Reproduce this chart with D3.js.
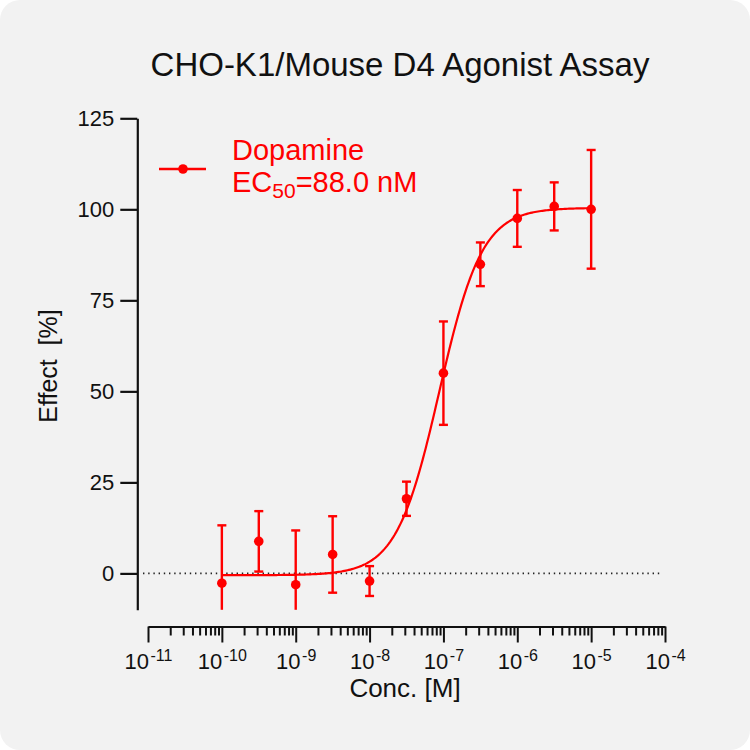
<!DOCTYPE html>
<html>
<head>
<meta charset="utf-8">
<script src="https://cdn.jsdelivr.net/npm/d3@7"></script>
<style>
  body { margin: 0; background: #fff; }
  text { font-family: "Liberation Sans", Arial, sans-serif; }
</style>
</head>
<body>
<div id="chart"></div>
<script>
// Dopamine concentration-response (log10 M), mean and SD of effect [%]
const logConc = [-10, -9.5, -9, -8.5, -8, -7.5, -7, -6.5, -6, -5.5, -5];
const effect  = [-2.7, 8.8, -3.1, 5.2, -2.1, 20.5, 55.0, 84.9, 97.5, 100.8, 100.0];
const effectSd = [15.9, 8.3, 14.9, 10.5, 4.1, 4.7, 14.2, 6.0, 7.8, 6.6, 16.3];

// 4PL fit: bottom, top, logEC50, hill slope
const fitParams = [-0.5, 100.4, Math.log10(88e-9), 1.5];
const fitRange = [-10, -5];

const yTicks = [0, 25, 50, 75, 100, 125];
const xDecades = [-11, -10, -9, -8, -7, -6, -5, -4];

const seriesName = "Dopamine";
const ec50Label = "88.0 nM";

const W = 750, H = 750;
const red = "#ff0000";

const svg = d3.select("#chart").append("svg")
  .attr("width", W)
  .attr("height", H);

// panel background
svg.append("rect")
  .attr("width", W).attr("height", H)
  .attr("rx", 20)
  .attr("fill", "#f2f2f2");

// scales
const x = d3.scaleLog()
  .domain([1e-11, 1e-4])
  .range([148, 665]);

const y = d3.scaleLinear()
  .domain([-10, 125])
  .range([609.8, 118.3])
  .clamp(true);

// title
svg.append("text")
  .attr("x", 400)
  .attr("y", 76)
  .attr("text-anchor", "middle")
  .style("font-size", "33px")
  .attr("fill", "#111")
  .text("CHO-K1/Mouse D4 Agonist Assay");

// y axis
const yAxis = svg.append("g")
  .attr("transform", "translate(137.3,0)")
  .call(d3.axisLeft(y).tickValues(yTicks).tickSize(17).tickSizeOuter(0).tickPadding(6));
yAxis.select(".domain").attr("stroke", "#111").attr("stroke-width", 2.2);
yAxis.selectAll(".tick line").attr("stroke", "#111").attr("stroke-width", 2.2);
yAxis.selectAll(".tick text")
  .style("font-size", "22px")
  .attr("fill", "#111")
  .attr("font-family", "Liberation Sans, Arial, sans-serif");

svg.append("text")
  .attr("transform", "translate(57,366) rotate(-90)")
  .attr("text-anchor", "middle")
  .style("font-size", "25px")
  .attr("fill", "#111")
  .attr("xml:space", "preserve")
  .text("Effect  [%]");

// x axis: major + minor log ticks
const xTickVals = [];
xDecades.forEach(d => {
  xTickVals.push(Math.pow(10, d));
  if (d < -4) for (let m = 2; m <= 9; m++) xTickVals.push(m * Math.pow(10, d));
});
const isMajor = v => Math.abs(Math.log10(v) - Math.round(Math.log10(v))) < 1e-9;

const xAxis = svg.append("g")
  .attr("transform", "translate(0,626.5)")
  .call(d3.axisBottom(x).tickValues(xTickVals).tickSize(16).tickSizeOuter(0).tickFormat(""));
xAxis.select(".domain").attr("stroke", "#111").attr("stroke-width", 2.2);
xAxis.selectAll(".tick line")
  .attr("stroke", "#111")
  .attr("stroke-width", 2)
  .attr("y2", d => isMajor(d) ? 16 : 9);

xAxis.selectAll(".tick")
  .filter(d => isMajor(d))
  .append("text")
  .attr("y", 42)
  .attr("text-anchor", "middle")
  .attr("fill", "#111")
  .style("font-size", "22px")
  .each(function(d) {
    const t = d3.select(this);
    t.append("tspan").text("10");
    t.append("tspan")
      .attr("dy", -8)
      .attr("dx", 1.5)
      .style("font-size", "16px")
      .text(String(Math.round(Math.log10(d))));
  });

svg.append("text")
  .attr("x", 405)
  .attr("y", 697)
  .attr("text-anchor", "middle")
  .style("font-size", "26px")
  .attr("fill", "#111")
  .text("Conc. [M]");

// zero reference line
svg.append("line")
  .attr("x1", 143).attr("x2", 663)
  .attr("y1", y(0)).attr("y2", y(0))
  .attr("stroke", "#222")
  .attr("stroke-width", 1.6)
  .attr("stroke-dasharray", "1.4,3.8");

// fitted curve
const [fitBottom, fitTop, logEc50, hill] = fitParams;
const curvePts = d3.range(fitRange[0], fitRange[1] + 0.001, 0.02)
  .map(lx => ({ lx, v: fitBottom + (fitTop - fitBottom) / (1 + Math.pow(10, (logEc50 - lx) * hill)) }));

const line = d3.line()
  .x(d => x(Math.pow(10, d.lx)))
  .y(d => y(d.v));

svg.append("path")
  .datum(curvePts)
  .attr("fill", "none")
  .attr("stroke", red)
  .attr("stroke-width", 2.2)
  .attr("d", line);

// error bars and points
const pts = logConc.map((lx, i) => ({ c: Math.pow(10, lx), m: effect[i], sd: effectSd[i] }));

const bars = svg.append("g").attr("stroke", red).attr("stroke-width", 2.4);
pts.forEach(d => {
  const cx = x(d.c);
  const yt = y(d.m + d.sd), yb = y(d.m - d.sd);
  bars.append("line").attr("x1", cx).attr("x2", cx).attr("y1", yt).attr("y2", yb);
  bars.append("line").attr("x1", cx - 4.5).attr("x2", cx + 4.5).attr("y1", yt).attr("y2", yt);
  if (d.m - d.sd > y.domain()[0]) {
    bars.append("line").attr("x1", cx - 4.5).attr("x2", cx + 4.5).attr("y1", yb).attr("y2", yb);
  }
});

svg.append("g").selectAll("circle")
  .data(pts)
  .enter().append("circle")
  .attr("cx", d => x(d.c))
  .attr("cy", d => y(d.m))
  .attr("r", 4.8)
  .attr("fill", red);

// legend
const lg = svg.append("g");
lg.append("line")
  .attr("x1", 159).attr("x2", 206)
  .attr("y1", 169).attr("y2", 169)
  .attr("stroke", red).attr("stroke-width", 2.4);
lg.append("circle")
  .attr("cx", 183).attr("cy", 169).attr("r", 4.8)
  .attr("fill", red);
lg.append("text")
  .attr("x", 232).attr("y", 160)
  .style("font-size", "29px")
  .attr("fill", red)
  .text(seriesName);
const ecText = lg.append("text")
  .attr("x", 232).attr("y", 192)
  .style("font-size", "29px")
  .attr("fill", red);
ecText.append("tspan").text("EC");
ecText.append("tspan").attr("dy", 6).style("font-size", "21px").text("50");
ecText.append("tspan").attr("dy", -6).text("=" + ec50Label);
</script>
</body>
</html>
